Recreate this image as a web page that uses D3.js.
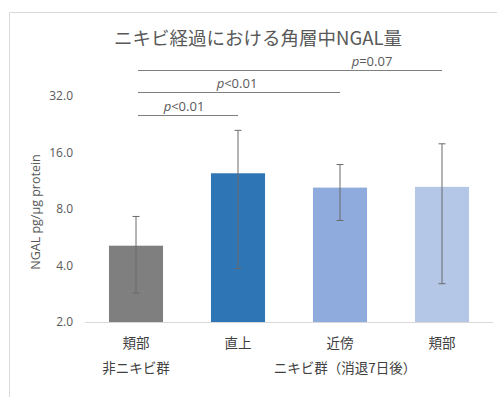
<!DOCTYPE html>
<html>
<head>
<meta charset="utf-8">
<script src="https://cdn.jsdelivr.net/npm/d3@7"></script>
<style>
  body { margin: 0; background: #fff; }
  text { font-family: "Noto Sans CJK JP", "Noto Sans", sans-serif; }
</style>
</head>
<body>
<svg id="main_svg" width="497" height="397"></svg>
<script>
// data
let categories = ["頬部", "直上", "近傍", "頬部2"]
let catLabels = ["頬部", "直上", "近傍", "頬部"]
let means = [5.1, 12.4, 10.4, 10.5]
let errHigh = [7.3, 21.0, 13.8, 17.8]
let errLow = [2.85, 3.85, 6.95, 3.2]
let barColors = ["#7f7f7f", "#2e75b6", "#8faadc", "#b4c7e7"]
let yTicks = [2, 4, 8, 16, 32]
let groups = [
    {label: "非ニキビ群", from: 0, to: 0},
    {label: "ニキビ群（消退7日後）", from: 1, to: 3}
]
let sig = [
    {a: 0, b: 3, op: "=0.07", level: 0},
    {a: 0, b: 2, op: "<0.01", level: 1},
    {a: 0, b: 1, op: "<0.01", level: 2}
]

let svg = d3.select("#main_svg")

// chart frame (only top and left visible)
svg.append("line").attr("x1", 9.5).attr("y1", 12.5).attr("x2", 497).attr("y2", 12.5)
    .attr("stroke", "#d9d9d9")
svg.append("line").attr("x1", 9.5).attr("y1", 12.5).attr("x2", 9.5).attr("y2", 397)
    .attr("stroke", "#d9d9d9")

let plotLeft = 85, plotRight = 493, plotTop = 96, plotBottom = 322

let x = d3.scaleBand()
    .domain(categories)
    .range([plotLeft, plotRight])
    .paddingInner(0.47)
    .paddingOuter(0.235)

let y = d3.scaleLog().base(2)
    .domain([2, 32])
    .range([plotBottom, plotTop])

// title
svg.append("text")
    .attr("x", 258)
    .attr("y", 45)
    .attr("text-anchor", "middle")
    .attr("font-size", 18.5)
    .attr("fill", "#595959")
    .text("ニキビ経過における角層中NGAL量")

// y tick labels
let yAxis = d3.axisLeft(y).tickValues(yTicks).tickFormat(d3.format(".1f")).tickSize(0).tickPadding(0)
let gy = svg.append("g").attr("transform", "translate(73,0)").call(yAxis)
gy.select(".domain").remove()
gy.selectAll("text").attr("font-size", 12).attr("fill", "#595959")
    .style("font-family", "'Open Sans', 'Noto Sans', sans-serif")

// y axis title
svg.append("text")
    .attr("transform", "translate(40,212) rotate(-90)")
    .attr("text-anchor", "middle")
    .attr("font-size", 12.5)
    .attr("fill", "#595959")
    .style("font-family", "'Open Sans', 'Noto Sans', sans-serif")
    .text("NGAL pg/µg protein")

// bars
svg.selectAll(".bar")
    .data(categories)
    .enter().append("rect")
    .attr("class", "bar")
    .attr("x", d => x(d))
    .attr("width", x.bandwidth())
    .attr("y", (d, i) => y(means[i]))
    .attr("height", (d, i) => plotBottom - y(means[i]))
    .attr("fill", (d, i) => barColors[i])

// x axis line
svg.append("line")
    .attr("x1", plotLeft).attr("x2", plotRight)
    .attr("y1", plotBottom + 0.5).attr("y2", plotBottom + 0.5)
    .attr("stroke", "#d9d9d9")

// error bars
let eb = svg.selectAll(".err")
    .data(categories)
    .enter().append("g")
    .attr("class", "err")
    .attr("stroke", "#6b6b6b")
    .attr("stroke-width", 1)
let cx = d => x(d) + x.bandwidth() / 2
eb.append("line")
    .attr("x1", cx).attr("x2", cx)
    .attr("y1", (d, i) => y(errHigh[i])).attr("y2", (d, i) => y(errLow[i]))
eb.append("line")
    .attr("x1", d => cx(d) - 3.5).attr("x2", d => cx(d) + 3.5)
    .attr("y1", (d, i) => y(errHigh[i])).attr("y2", (d, i) => y(errHigh[i]))
eb.append("line")
    .attr("x1", d => cx(d) - 3.5).attr("x2", d => cx(d) + 3.5)
    .attr("y1", (d, i) => y(errLow[i])).attr("y2", (d, i) => y(errLow[i]))

// category labels
svg.selectAll(".cat")
    .data(categories)
    .enter().append("text")
    .attr("class", "cat")
    .attr("x", cx)
    .attr("y", 348)
    .attr("text-anchor", "middle")
    .attr("font-size", 13.5)
    .attr("fill", "#404040")
    .text((d, i) => catLabels[i])

svg.selectAll(".grp")
    .data(groups)
    .enter().append("text")
    .attr("class", "grp")
    .attr("x", d => (cx(categories[d.from]) + cx(categories[d.to])) / 2 + (d.from == d.to ? 0 : 5))
    .attr("y", 373)
    .attr("text-anchor", "middle")
    .attr("font-size", 13.5)
    .attr("fill", "#404040")
    .text(d => d.label)

// significance brackets
let sigY = [70.5, 92.5, 115.5]
let sg = svg.selectAll(".sig")
    .data(sig)
    .enter().append("g")
    .attr("class", "sig")
sg.append("line")
    .attr("x1", d => cx(categories[d.a]) + 2)
    .attr("x2", d => cx(categories[d.b]))
    .attr("y1", d => sigY[d.level]).attr("y2", d => sigY[d.level])
    .attr("stroke", "#7f7f7f")
let st = sg.append("text")
    .attr("x", (d, i) => [372, 237, 184][i])
    .attr("y", d => sigY[d.level] - 5)
    .attr("text-anchor", "middle")
    .attr("font-size", 13)
    .attr("fill", "#595959")
    .style("font-family", "'Open Sans', 'Noto Sans', sans-serif")
st.append("tspan").attr("font-style", "italic").text("p")
st.append("tspan").text(d => d.op)
</script>
</body>
</html>
